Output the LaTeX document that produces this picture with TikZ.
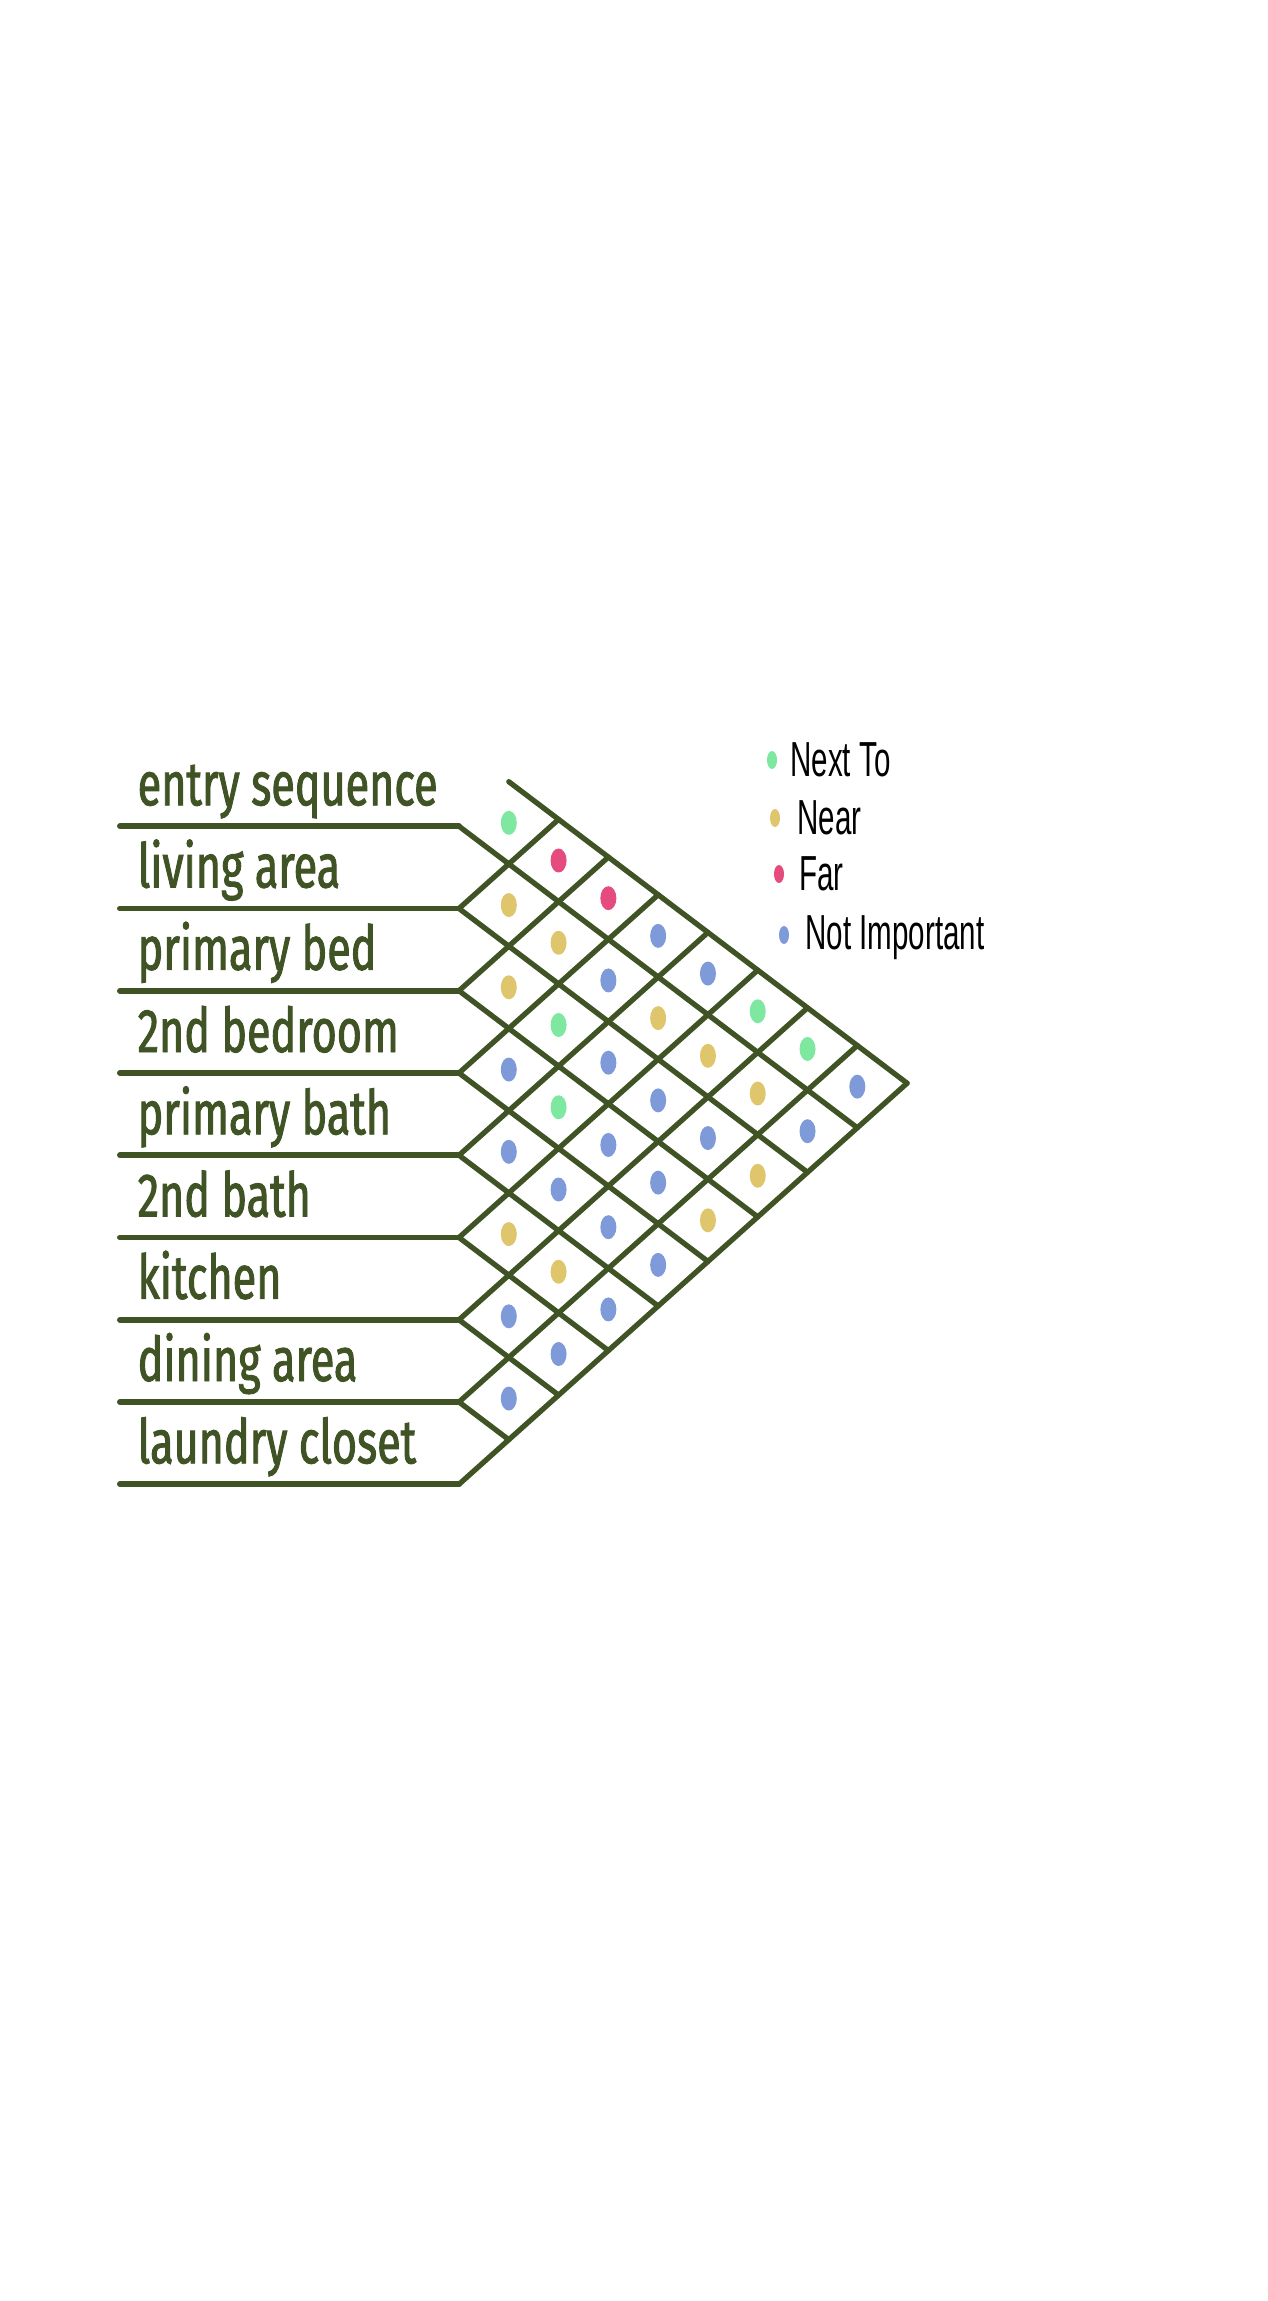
\documentclass[tikz,border=0pt]{standalone}
\usepackage{fontspec}
\usepackage{xcolor}
\usepackage{tikz}
\usetikzlibrary{positioning, shapes.geometric}
\definecolor{gridgreen}{HTML}{3F5325}
\definecolor{nextto}{HTML}{7FE8A0}
\definecolor{near}{HTML}{DFC56C}
\definecolor{far}{HTML}{E64B7E}
\definecolor{notimp}{HTML}{7F9AD8}
\newfontfamily\handfont{Fira Sans}[FakeStretch=0.7, FakeBold=1.5]
\newfontfamily\notefont{Liberation Sans}[FakeStretch=0.6]
\newcommand{\roomfont}{\handfont\fontsize{17.5pt}{20pt}\selectfont}
\newcommand{\keyfont}{\notefont\fontsize{14pt}{16pt}\selectfont}
% grid geometry (picture units are pixels of the sketch)
\def\xg{459}
\def\ytop{744}
\def\gap{82.25}
\def\sa{0.757}
\def\sb{0.895}
\def\ss{1.652}

\begin{document}
\begin{tikzpicture}[
        x=0.01cm, y=-0.01cm,
        grid/.style={draw=gridgreen, line width=1.5pt, line cap=round},
        rule/.style={draw=gridgreen, line width=1.7pt, line cap=round},
        dot/.style={ellipse, draw=none, inner sep=0pt, minimum width=0.16cm, minimum height=0.24cm},
        keydot/.style={ellipse, draw=none, inner sep=0pt, minimum width=0.10cm, minimum height=0.18cm},
        roomlabel/.style={anchor=base west, inner sep=0pt, text=gridgreen, font=\roomfont},
        keytext/.style={inner sep=0pt, text=black, font=\keyfont}
    ]
        \useasboundingbox (0,0) rectangle (1267,2301);

        % Boundary points between the rooms
        \foreach \k in {0,...,9}
            \coordinate (b\k) at (\xg, {\ytop+\k*\gap});
        \coordinate (apex) at ({\xg+9*\gap/\ss}, {\ytop+\sa*9*\gap/\ss});

        % Room names and rules
        \foreach \k/\room in {1/entry sequence, 2/living area, 3/primary bed,
                4/2nd bedroom, 5/primary bath, 6/2nd bath, 7/kitchen,
                8/dining area, 9/laundry closet} {
            \node[roomlabel] (room\k) at (137, {\ytop+\k*\gap-21}) {\room};
            \draw[rule] (120, {\ytop+\k*\gap}) -- (b\k);
        }

        % Grid: lines down to the right
        \pgfmathsetmacro\tstart{\gap/\ss}
        \draw[grid] (b0) ++(\tstart, {\sa*\tstart}) -- (apex);
        \foreach \k in {1,...,8} {
            \pgfmathsetmacro\t{(9-\k)*\gap/\ss}
            \draw[grid] (b\k) -- ++(\t, {\sa*\t});
        }

        % Grid: lines up to the right
        \foreach \k in {2,...,9} {
            \pgfmathsetmacro\t{\k*\gap/\ss}
            \draw[grid] (b\k) -- ++(\t, {-\sb*\t});
        }

        % Dots, one per pair of rooms
        \foreach \i/\codes in {
                1/{nextto,far,far,notimp,notimp,nextto,nextto,notimp},
                2/{near,near,notimp,near,near,near,notimp},
                3/{near,nextto,notimp,notimp,notimp,near},
                4/{notimp,nextto,notimp,notimp,near},
                5/{notimp,notimp,notimp,notimp},
                6/{near,near,notimp},
                7/{notimp,notimp},
                8/{notimp}} {
            \foreach \c [count=\n] in \codes {
                \pgfmathsetmacro\t{\n*\gap/\ss}
                \pgfmathtruncatemacro\j{\i+\n}
                \node[dot, fill=\c] (c\i-\j) at ({\xg+\t}, {\ytop+(\i-0.5)*\gap+\sa*\t}) {};
            }
        }

        % Legend
        \node[keydot, fill=nextto] (key1) at (772,760) {};
        \node[keydot, fill=near] (key2) at (775,818) {};
        \node[keydot, fill=far] (key3) at (779,874) {};
        \node[keydot, fill=notimp] (key4) at (784,935) {};
        \node[keytext, right=0.12cm of key1] (next) {Next To};
        \node[keytext, right=0.16cm of key2] (near) {Near};
        \node[keytext, right=0.14cm of key3] (far) {Far};
        \node[keytext, right=0.15cm of key4, yshift=-0.03cm] (notimp) {Not Important};
    \end{tikzpicture}
\end{document}
